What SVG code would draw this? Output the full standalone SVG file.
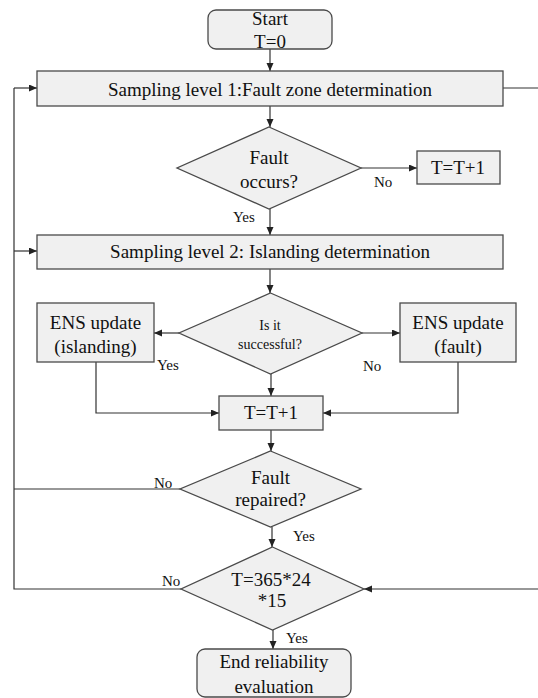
<svg xmlns="http://www.w3.org/2000/svg" width="538" height="698" viewBox="0 0 538 698">
  <style>
    .box { fill: #f0f0f0; stroke: #4a4a4a; stroke-width: 1.3; }
    .t { font-family: "Liberation Serif", "Times New Roman", serif; font-size: 19px; fill: #111; text-anchor: middle; }
    .s { font-size: 14px; }
    .lbl { font-family: "Liberation Serif", "Times New Roman", serif; font-size: 15px; fill: #111; }
    .ln { fill: none; stroke: #333; stroke-width: 1.2; }
    .ar { marker-end: url(#arrow); }
  </style>
  <defs>
    <marker id="arrow" markerUnits="userSpaceOnUse" markerWidth="9" markerHeight="8" refX="8" refY="3.5" orient="auto">
      <path d="M0,0 L8,3.5 L0,7 z" fill="#222"/>
    </marker>
  </defs>
  <rect width="538" height="698" fill="#ffffff"/>

  <!-- connectors -->
  <g id="connectors">
    <line class="ln ar" x1="270" y1="49" x2="270" y2="71"/>
    <line class="ln ar" x1="270" y1="106" x2="270" y2="127"/>
    <line class="ln ar" x1="361" y1="168" x2="417" y2="168"/>
    <line class="ln ar" x1="270" y1="209" x2="270" y2="235"/>
    <line class="ln ar" x1="270" y1="269" x2="270" y2="293"/>
    <line class="ln ar" x1="179" y1="333" x2="154" y2="333"/>
    <line class="ln ar" x1="362" y1="333" x2="400" y2="333"/>
    <line class="ln ar" x1="271" y1="374" x2="271" y2="396"/>
    <polyline class="ln ar" points="96,362 96,413 219,413"/>
    <polyline class="ln ar" points="458,362 458,413 323,413"/>
    <line class="ln ar" x1="271" y1="430" x2="271" y2="451"/>
    <line class="ln ar" x1="272" y1="527" x2="272" y2="547"/>
    <line class="ln ar" x1="273" y1="630" x2="273" y2="649"/>
    <!-- loop back to the two sampling levels -->
    <polyline class="ln" points="181,589 14,589 14,88"/>
    <line class="ln" x1="180" y1="489" x2="14" y2="489"/>
    <line class="ln ar" x1="14" y1="88" x2="37" y2="88"/>
    <line class="ln ar" x1="14" y1="251" x2="37" y2="251"/>
    <!-- right side return -->
    <line class="ln" x1="503" y1="88" x2="538" y2="88"/>
    <line class="ln ar" x1="538" y1="589" x2="364" y2="589"/>
  </g>

  <g id="start">
    <rect class="box" x="208" y="10" width="124" height="39" rx="8"/>
    <text class="t" x="270" y="25">Start</text>
    <text class="t" x="270" y="48">T=0</text>
  </g>

  <g id="level1">
    <rect class="box" x="37" y="71" width="466" height="35"/>
    <text class="t" x="270" y="96">Sampling level 1:Fault zone determination</text>
  </g>

  <g id="fault-occurs">
    <polygon class="box" points="269,127 361,168 269,209 177,168"/>
    <text class="t" x="269" y="164">Fault</text>
    <text class="t" x="269" y="188">occurs?</text>
  </g>

  <g id="step-top">
    <rect class="box" x="417" y="151" width="83" height="33"/>
    <text class="t" x="458" y="174">T=T+1</text>
  </g>

  <g id="level2">
    <rect class="box" x="37" y="235" width="466" height="34"/>
    <text class="t" x="270" y="258">Sampling level 2: Islanding determination</text>
  </g>

  <g id="successful">
    <polygon class="box" points="270.5,293 362,333 270.5,374 179,333"/>
    <text class="t s" x="270" y="330">Is it</text>
    <text class="t s" x="270" y="349">successful?</text>
  </g>

  <g id="ens-islanding">
    <rect class="box" x="37" y="303" width="117" height="59"/>
    <text class="t" x="95.5" y="329">ENS update</text>
    <text class="t" x="95.5" y="353">(islanding)</text>
  </g>

  <g id="ens-fault">
    <rect class="box" x="400" y="303" width="116" height="59"/>
    <text class="t" x="458" y="329">ENS update</text>
    <text class="t" x="458" y="353">(fault)</text>
  </g>

  <g id="step-mid">
    <rect class="box" x="219" y="396" width="104" height="34"/>
    <text class="t" x="271" y="419">T=T+1</text>
  </g>

  <g id="fault-repaired">
    <polygon class="box" points="270.5,451 361,489 270.5,527 180,489"/>
    <text class="t" x="270.5" y="484">Fault</text>
    <text class="t" x="270.5" y="506">repaired?</text>
  </g>

  <g id="time-check">
    <polygon class="box" points="272.5,547 364,589 272.5,630 181,589"/>
    <text class="t" x="271" y="586">T=365*24</text>
    <text class="t" x="272" y="607">*15</text>
  </g>

  <g id="end">
    <rect class="box" x="197" y="649" width="154" height="48" rx="8"/>
    <text class="t" x="274" y="668">End reliability</text>
    <text class="t" x="274" y="693">evaluation</text>
  </g>

  <g id="labels">
    <text class="lbl" x="374" y="187">No</text>
    <text class="lbl" x="233" y="222">Yes</text>
    <text class="lbl" x="157" y="370">Yes</text>
    <text class="lbl" x="363" y="371">No</text>
    <text class="lbl" x="154" y="488">No</text>
    <text class="lbl" x="293" y="541">Yes</text>
    <text class="lbl" x="162" y="586">No</text>
    <text class="lbl" x="286" y="643">Yes</text>
  </g>
</svg>
